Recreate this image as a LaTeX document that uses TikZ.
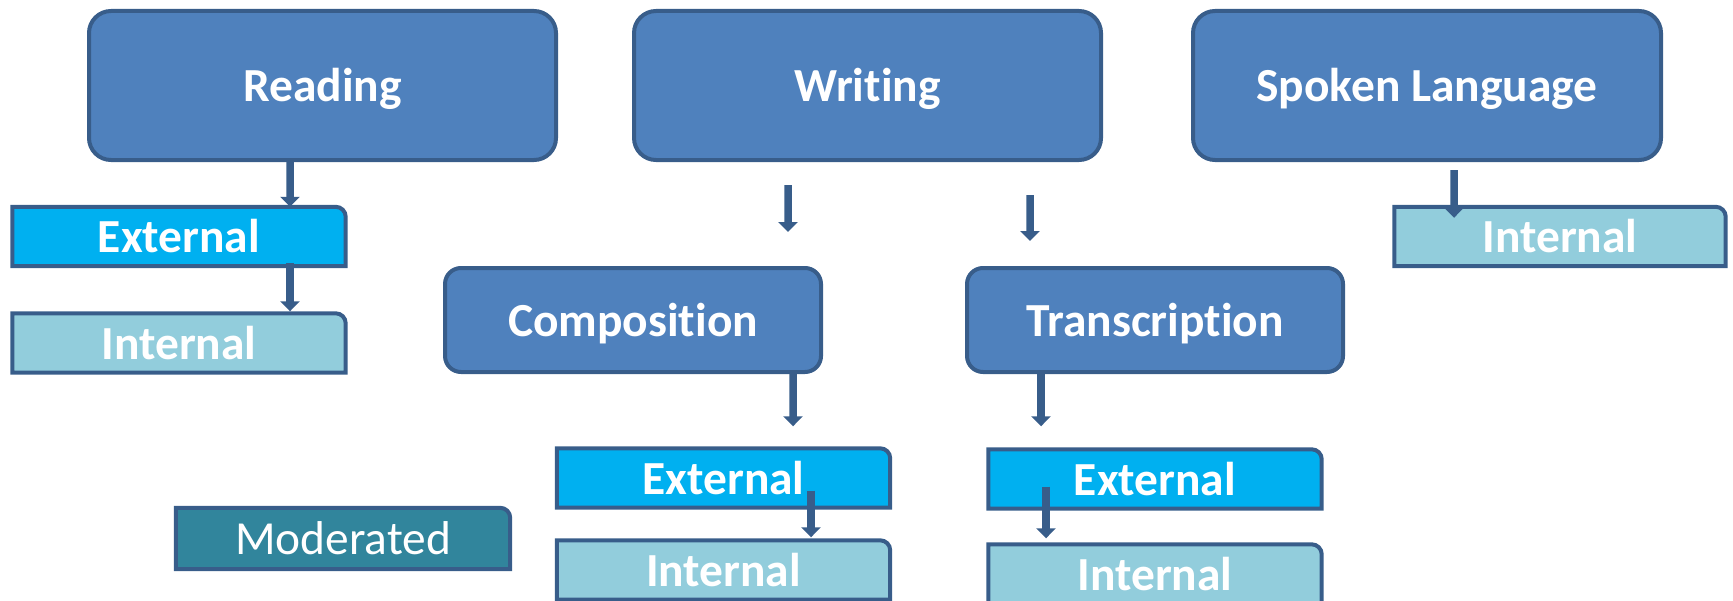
\documentclass[tikz,border=0pt]{standalone}
\usepackage{fontspec}
\setmainfont{Carlito}[Ligatures=NoCommon]
\usepackage{xcolor}
\usepackage{tikz}
\usetikzlibrary{arrows.meta,backgrounds}

\definecolor{clrTopic}{HTML}{4F81BD}
\definecolor{clrEdge}{HTML}{385D8A}
\definecolor{clrExternal}{HTML}{00B0F0}
\definecolor{clrInternal}{HTML}{92CDDC}
\definecolor{clrModerated}{HTML}{31859C}

\tikzstyle{tsBoldWhite} = [
    text=white,
    font=\bfseries\fontsize{13.5}{16}\selectfont,
    text height=0.98em,
    text depth=0.06em
]
\tikzstyle{tsTopic} = [
    rectangle,
    tsBoldWhite,
    align=center,
    draw=clrEdge,
    fill=clrTopic,
    line width=0.4mm]
\tikzstyle{tsTopBox} = [
    tsTopic,
    rounded corners=2.2mm,
    minimum width=4.67cm,
    minimum height=1.49cm
]
\tikzstyle{tsSubBox} = [
    tsTopic,
    rounded corners=1.6mm,
    minimum width=3.76cm,
    minimum height=1.04cm
]
\tikzstyle{tsTab} = [
    rectangle,
    tsBoldWhite,
    inner sep=0pt,
    minimum width=3.32cm,
    minimum height=0.58cm
]
\tikzstyle{tsTabEdge} = [
    draw=clrEdge,
    line width=0.4mm
]
\tikzstyle{tsArrow} = [
    -{Triangle[width=1.9mm, length=1mm]},
    draw=clrEdge,
    line width=0.75mm
]

\begin{document}
\begin{tikzpicture}
        \useasboundingbox (0,0) rectangle (17.33,6.00);

        % Topic boxes
        \node[tsTopBox] (rd) at (3.225, 5.145) {Reading};
        \node[tsTopBox] (wr) at (8.675, 5.145) {Writing};
        \node[tsTopBox, minimum width=4.68cm] (sp) at (14.27, 5.145) {Spoken Language};

        % Writing split
        \node[tsSubBox] (cp) at (6.33, 2.80) {Composition};
        \node[tsSubBox] (tr) at (11.55, 2.80) {Transcription};

        % Assessment tabs
        \node[tsTab, minimum width=3.32cm] (rdExt) at (1.79, 3.635) {External};
        \node[tsTab] (rdInt) at (1.79, 2.57) {Internal};
        \node[tsTab, minimum width=3.30cm] (spInt) at (15.60, 3.635) {Internal};
        \node[tsTab] (cpExt) at (7.235, 1.22) {External};
        \node[tsTab] (cpInt) at (7.235, 0.30) {Internal};
        \node[tsTab] (trExt) at (11.55, 1.21) {External};
        \node[tsTab] (trInt) at (11.55, 0.26) {Internal};

        % Key
        \node[tsTab, font=\fontsize{13.5}{16}\selectfont,
              minimum width=3.33cm, minimum height=0.60cm] (mod) at (3.43, 0.615) {Moderated};

        % Tab outlines, one round corner
        \begin{scope}[on background layer]
        \foreach \nd/\clr in {rdExt/clrExternal, rdInt/clrInternal, spInt/clrInternal,
                              cpExt/clrExternal, cpInt/clrInternal,
                              trExt/clrExternal, trInt/clrInternal, mod/clrModerated}
            \filldraw[tsTabEdge, fill=\clr] (\nd.south west) -- (\nd.north west)
                -- ([xshift=-1mm]\nd.north east) arc[start angle=90, end angle=0, radius=1mm]
                -- (\nd.south east) -- cycle;
        \end{scope}

        % Arrows
        \draw[tsArrow] ([xshift=-3.25mm]rd.south) -- ([xshift=11.1mm]rdExt.north);
        \draw[tsArrow] ([xshift=11.1mm, yshift=0.3mm]rdExt.south) -- ([xshift=11.1mm, yshift=0.2mm]rdInt.north);

        \draw[tsArrow] ([xshift=-7.95mm, yshift=-2.3mm]wr.south) -- ([xshift=15.5mm, yshift=3.4mm]cp.north);
        \draw[tsArrow] ([xshift=16.25mm, yshift=-3.3mm]wr.south) -- ([xshift=-12.5mm, yshift=2.5mm]tr.north);

        \draw[tsArrow] ([xshift=16mm]cp.south) -- ([xshift=6.95mm, yshift=2.2mm]cpExt.north);
        \draw[tsArrow] ([xshift=8.75mm, yshift=1.7mm]cpExt.south) -- ([xshift=8.75mm, yshift=0.3mm]cpInt.north);

        \draw[tsArrow] ([xshift=-11.4mm]tr.south) -- ([xshift=-11.4mm, yshift=2.3mm]trExt.north);
        \draw[tsArrow] ([xshift=-10.9mm, yshift=2.2mm]trExt.south) -- ([xshift=-10.9mm, yshift=0.6mm]trInt.north);

        \draw[tsArrow] ([xshift=2.7mm, yshift=-0.8mm]sp.south) -- ([xshift=-10.6mm, yshift=-1.1mm]spInt.north);

\end{tikzpicture}
\end{document}
